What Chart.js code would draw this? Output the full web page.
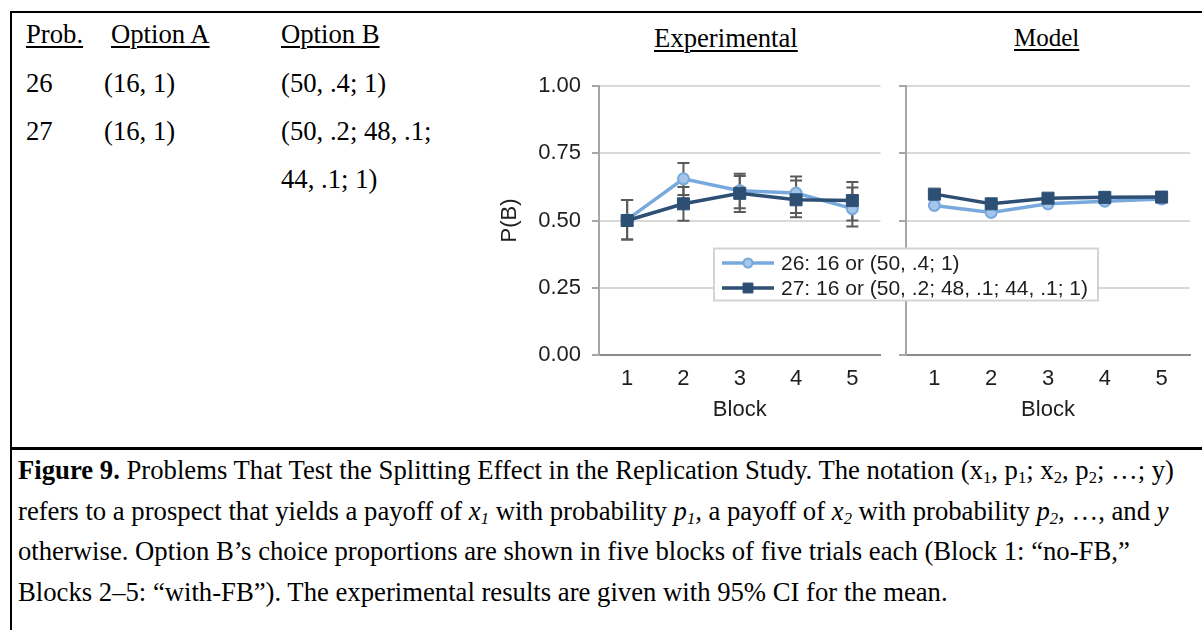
<!DOCTYPE html>
<html>
<head>
<meta charset="utf-8">
<script src="https://cdn.jsdelivr.net/npm/chart.js@4.4.1/dist/chart.umd.min.js"></script>
<style>
  html, body { margin: 0; padding: 0; background: #fff; }
  body { width: 1202px; height: 630px; position: relative; overflow: hidden; }
  .serif { font-family: "Liberation Serif", "Times New Roman", serif; font-size: 26.7px; color: #000; position: absolute; white-space: nowrap; }
  .col { line-height: 48.3px; top: 10.3px; }
  .u { text-decoration: underline; text-decoration-thickness: 1.5px; text-underline-offset: 3px; }
  .title { line-height: 26px; top: 24.7px; }
  .caption { left: 18px; top: 450px; line-height: 40.7px; }
  sub { font-size: 0.62em; line-height: 0; vertical-align: -0.25em; }
  .rule { position: absolute; background: #000; }
  canvas { position: absolute; }
</style>
</head>
<body>
<div class="rule" style="left:10px; top:11px; width:1192px; height:2px;"></div>
<div class="rule" style="left:10px; top:11px; width:2px; height:619px;"></div>
<div class="rule" style="left:10px; top:447px; width:1192px; height:3px;"></div>

<div class="serif col" style="left:26px;"><span class="u">Prob.</span><br>26<br>27</div>
<div class="serif col" style="left:104px;"><span class="u" style="margin-left:7px;">Option A</span><br>(16, 1)<br>(16, 1)</div>
<div class="serif col" style="left:281px;"><span class="u">Option B</span><br>(50, .4; 1)<br>(50, .2; 48, .1;<br>44, .1; 1)</div>

<div class="serif title u" style="left:654px;">Experimental</div>
<div class="serif title u" style="left:1014px; font-size:25px;">Model</div>

<canvas id="expChart" width="400" height="380" style="left:490px; top:60px;"></canvas>
<canvas id="modelChart" width="502" height="380" style="left:700px; top:60px;"></canvas>

<div class="serif caption">
<b>Figure 9.</b> Problems That Test the Splitting Effect in the Replication Study. The notation (x<sub>1</sub>, p<sub>1</sub>; x<sub>2</sub>, p<sub>2</sub>; …; y)<br>
refers to a prospect that yields a payoff of <i>x<sub>1</sub></i> with probability <i>p<sub>1</sub>,</i> a payoff of <i>x<sub>2</sub></i> with probability <i>p<sub>2</sub>,</i> …, and <i>y</i><br>
otherwise. Option B’s choice proportions are shown in five blocks of five trials each (Block 1: “no-FB,”<br>
Blocks 2–5: “with-FB”). The experimental results are given with 95% CI for the mean.
</div>

<script>
// Data
const blocks = ['1', '2', '3', '4', '5'];
const yTicks = [0, 0.25, 0.5, 0.75, 1];

const seriesLabels = ['26: 16 or (50, .4; 1)', '27: 16 or (50, .2; 48, .1; 44, .1; 1)'];

const exp26 = [0.503, 0.655, 0.611, 0.602, 0.544];
const exp27 = [0.500, 0.562, 0.601, 0.577, 0.574];
const exp26Lo = [0.429, 0.595, 0.546, 0.528, 0.478];
const exp26Hi = [0.576, 0.714, 0.674, 0.664, 0.623];
const exp27Lo = [0.429, 0.499, 0.532, 0.512, 0.500];
const exp27Hi = [0.576, 0.625, 0.665, 0.649, 0.643];

const model26 = [0.556, 0.530, 0.562, 0.572, 0.580];
const model27 = [0.598, 0.562, 0.583, 0.586, 0.587];

const LIGHT = '#78a9dc';
const LIGHT_FILL = '#a3c6ea';
const DARK = '#2e4f74';

Chart.defaults.font.family = '"Liberation Sans", Arial, sans-serif';
Chart.defaults.font.size = 22;
Chart.defaults.color = '#1e1e1e';

function makeDatasets(d26, d27) {
  return [
    {
      label: seriesLabels[0],
      data: d26,
      borderColor: LIGHT,
      backgroundColor: LIGHT_FILL,
      borderWidth: 3.5,
      pointStyle: 'circle',
      pointRadius: 5.5,
      pointBorderWidth: 2,
      pointBorderColor: LIGHT,
      pointBackgroundColor: LIGHT_FILL,
      tension: 0,
      order: 1
    },
    {
      label: seriesLabels[1],
      data: d27,
      borderColor: DARK,
      backgroundColor: DARK,
      borderWidth: 3.5,
      pointStyle: 'rect',
      pointRadius: 8.5,
      pointBorderWidth: 1,
      pointBorderColor: DARK,
      pointBackgroundColor: DARK,
      tension: 0,
      order: 0
    }
  ];
}

// 95% CI whiskers
const errorBars = {
  id: 'errorBars',
  beforeDatasetsDraw(chart, args, opts) {
    if (!opts.lo) return;
    const {ctx, scales: {x, y}} = chart;
    ctx.save();
    ctx.strokeStyle = '#5a5a5a';
    ctx.lineWidth = 2;
    opts.lo.forEach((lo, s) => {
      const hi = opts.hi[s];
      lo.forEach((v, i) => {
        const px = x.getPixelForValue(i);
        const y0 = y.getPixelForValue(v);
        const y1 = y.getPixelForValue(hi[i]);
        ctx.beginPath();
        ctx.moveTo(px, y0); ctx.lineTo(px, y1);
        ctx.moveTo(px - 6, y0); ctx.lineTo(px + 6, y0);
        ctx.moveTo(px - 6, y1); ctx.lineTo(px + 6, y1);
        ctx.stroke();
      });
    });
    ctx.restore();
  }
};

// legend box that straddles both panels, drawn on the model canvas
const boxLegend = {
  id: 'boxLegend',
  afterDraw(chart, args, opts) {
    if (!opts.show) return;
    const ctx = chart.ctx;
    const bx = 14, by = 188.5, bw = 384, bh = 52;
    ctx.save();
    ctx.fillStyle = '#fff';
    ctx.fillRect(bx, by, bw, bh);
    ctx.strokeStyle = '#d4d4d4';
    ctx.lineWidth = 2;
    ctx.strokeRect(bx, by, bw, bh);
    ctx.font = '21px "Liberation Sans", Arial, sans-serif';
    ctx.textBaseline = 'middle';
    ctx.textAlign = 'left';
    chart.data.datasets.forEach((ds, i) => {
      const cy = by + 14.5 + i * 25;
      ctx.strokeStyle = ds.borderColor;
      ctx.lineWidth = 3.5;
      ctx.beginPath();
      ctx.moveTo(22, cy); ctx.lineTo(74, cy);
      ctx.stroke();
      ctx.fillStyle = ds.pointBackgroundColor;
      ctx.strokeStyle = ds.pointBorderColor;
      ctx.lineWidth = ds.pointStyle === 'circle' ? 2 : 1;
      Chart.helpers.drawPoint(ctx, {
        pointStyle: ds.pointStyle,
        radius: ds.pointStyle === 'circle' ? 4.5 : 7,
        borderWidth: ctx.lineWidth,
        rotation: 0
      }, 48, cy);
      ctx.fillStyle = '#1e1e1e';
      ctx.fillText(ds.label, 81, cy + 1);
    });
    ctx.restore();
  }
};

function makeScales(showYLabels) {
  return {
    x: {
      type: 'category',
      offset: true,
      afterFit: s => { s.height = 85; },
      grid: { display: false, drawTicks: false },
      border: { display: true, color: '#8a8a8a', width: 2 },
      ticks: { padding: 11, color: '#1e1e1e' },
      title: { display: true, text: 'Block', color: '#1e1e1e', padding: { top: 0, bottom: 17 } }
    },
    y: {
      min: 0,
      max: 1,
      afterFit: s => { s.width = showYLabels ? 109 : 26; },
      afterBuildTicks: s => { s.ticks = yTicks.map(v => ({ value: v })); },
      grid: {
        color: c => (c.tick && c.tick.value === 0 ? 'rgba(0,0,0,0)' : '#d9d9d9'),
        lineWidth: 2,
        tickColor: '#a6a6a6',
        tickLength: 7,
        drawTicks: true
      },
      border: { display: true, color: '#a6a6a6', width: 2 },
      ticks: {
        padding: 11,
        color: '#1e1e1e',
        callback: v => (showYLabels ? Number(v).toFixed(2) : '')
      },
      title: { display: showYLabels, text: 'P(B)', color: '#1e1e1e', padding: { top: 7, bottom: 0 } }
    }
  };
}

new Chart(document.getElementById('expChart'), {
  type: 'line',
  data: { labels: blocks, datasets: makeDatasets(exp26, exp27) },
  options: {
    responsive: false,
    animation: false,
    layout: { padding: { left: 0, top: 26, right: 7, bottom: 0 } },
    plugins: {
      legend: { display: false },
      tooltip: { enabled: false },
      errorBars: { lo: [exp26Lo, exp27Lo], hi: [exp26Hi, exp27Hi] }
    },
    scales: makeScales(true)
  },
  plugins: [errorBars]
});

new Chart(document.getElementById('modelChart'), {
  type: 'line',
  data: { labels: blocks, datasets: makeDatasets(model26, model27) },
  options: {
    responsive: false,
    animation: false,
    layout: { padding: { left: 180, top: 26, right: 12, bottom: 0 } },
    plugins: {
      legend: { display: false },
      tooltip: { enabled: false },
      boxLegend: { show: true }
    },
    scales: makeScales(false)
  },
  plugins: [boxLegend]
});
</script>
</body>
</html>
